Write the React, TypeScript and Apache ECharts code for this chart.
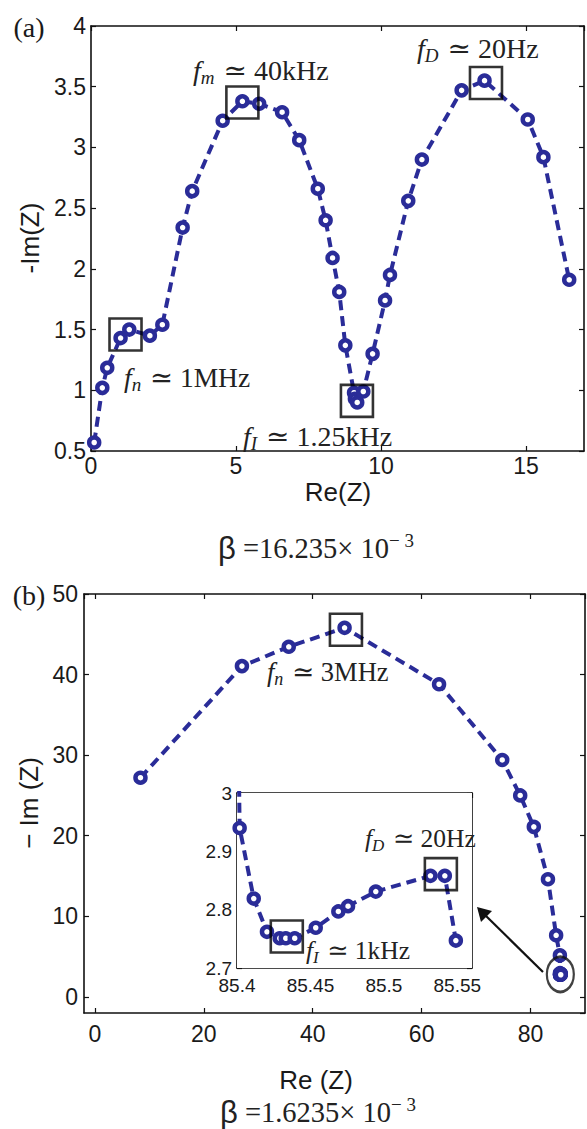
import React, { useEffect, useRef } from "react";
import * as echarts from "echarts";

// ---------- data ----------
// panel (a): Nyquist plot, beta = 16.235e-3
const aRe = [0.11, 0.39, 0.56, 1.02, 1.32, 2.03, 2.46, 3.16, 3.49, 4.54, 5.22, 5.8, 6.59, 7.18, 7.82, 8.09, 8.33, 8.56, 8.77, 9.07, 9.1, 9.18, 9.39, 9.71, 10.14, 10.31, 10.94, 11.41, 12.78, 13.57, 15.06, 15.6, 16.49];
const aIm = [0.57, 1.02, 1.185, 1.43, 1.5, 1.45, 1.54, 2.34, 2.64, 3.22, 3.38, 3.36, 3.29, 3.06, 2.66, 2.4, 2.09, 1.81, 1.37, 0.98, 0.93, 0.9, 0.99, 1.3, 1.74, 1.95, 2.56, 2.9, 3.47, 3.55, 3.23, 2.92, 1.91];
const aBoxRe = [1.19, 5.22, 9.17, 13.62];
const aBoxIm = [1.46, 3.37, 0.913, 3.53];

// panel (b): beta = 1.6235e-3
const bRe = [8.37, 27.0, 35.6, 45.85, 63.2, 74.8, 78.1, 80.6, 83.2, 84.7, 85.39];
const bIm = [27.2, 41.05, 43.45, 45.8, 38.8, 29.4, 25.0, 21.1, 14.6, 7.64, 5.15];
// low-frequency tail shown in the inset
const insetRe = [85.4018, 85.4114, 85.4204, 85.4291, 85.4332, 85.4393, 85.4536, 85.469, 85.4756, 85.4945, 85.5317, 85.5415, 85.549];
const insetIm = [2.94, 2.819, 2.762, 2.751, 2.751, 2.751, 2.769, 2.797, 2.806, 2.831, 2.858, 2.858, 2.747];
const bBoxRe = [46.1];
const bBoxIm = [45.57];
const insetBoxRe = [85.4339, 85.5388];
const insetBoxIm = [2.754, 2.861];
const ellipseRe = [85.47];
const ellipseIm = [2.8];

const BLUE = "#2A2C98";
const SANS = "'Liberation Sans', Arial, sans-serif";
const SERIF = "'Liberation Serif', 'DejaVu Serif', serif";

const pairs = (xs: number[], ys: number[]) => xs.map((x, i) => [x, ys[i]]);

const fmt = (v: number) => String(Math.round(v * 1000) / 1000);

function axisBase(gi: number, o: any) {
  return {
    gridIndex: gi,
    type: "value",
    min: o.min,
    max: o.max,
    interval: o.interval,
    splitNumber: o.splitNumber,
    axisLine: { show: true, onZero: false, lineStyle: { color: "#111", width: 1.6 } },
    axisTick: { show: true, inside: true, length: 5, lineStyle: { color: "#111", width: 1.2 } },
    splitLine: { show: false },
  };
}

const labelStyle = (o: any) => ({
  show: true,
  fontSize: o.fontSize,
  fontFamily: SANS,
  color: "#1a1a1a",
  margin: o.margin,
  lineHeight: o.lineHeight,
  showMinLabel: o.showMin,
  showMaxLabel: o.showMax,
  formatter: fmt,
});

function xAxes(gi: number, o: any) {
  const base = axisBase(gi, o);
  return [
    { ...base, position: "bottom", axisLabel: labelStyle(o) },
    { ...base, position: "top", axisLabel: { show: false } },
  ];
}

function yAxes(gi: number, o: any) {
  const base = axisBase(gi, o);
  return [
    { ...base, position: "left", axisLabel: labelStyle(o) },
    { ...base, position: "right", axisLabel: { show: false } },
  ];
}

const lineSeries = (xi: number, yi: number, data: number[][], extra: any = {}) => ({
  type: "line",
  xAxisIndex: xi,
  yAxisIndex: yi,
  data,
  symbol: "circle",
  symbolSize: 10,
  showAllSymbol: true,
  lineStyle: { color: BLUE, width: 4, type: [10, 6] },
  itemStyle: { color: "#ffffff", borderColor: BLUE, borderWidth: 4.5 },
  clip: true,
  z: 2,
  ...extra,
});

const boxSeries = (xi: number, yi: number, data: number[][]) => ({
  type: "scatter",
  xAxisIndex: xi,
  yAxisIndex: yi,
  data,
  symbol: "rect",
  symbolSize: 32,
  itemStyle: { color: "rgba(0,0,0,0)", borderColor: "#000", borderWidth: 2.6 },
  z: 5,
});

const richFor = (size: number) => ({
  it: { fontFamily: SERIF, fontStyle: "italic", fontSize: size, fill: "#222", lineHeight: size + 6, verticalAlign: "middle" },
  sub: { fontFamily: SERIF, fontStyle: "italic", fontSize: Math.round(size * 0.68), fill: "#222", lineHeight: Math.round(size * 0.5), verticalAlign: "bottom", padding: [0, 2, 0, 0] },
  rm: { fontFamily: SERIF, fontSize: size, fill: "#222", lineHeight: size + 6, verticalAlign: "middle" },
  sup: { fontFamily: SERIF, fontSize: Math.round(size * 0.68), fill: "#222", lineHeight: Math.round(size * 0.5), verticalAlign: "top" },
  b: { fontFamily: SANS, fontSize: Math.round(size * 1.08), fill: "#222", lineHeight: size + 6, verticalAlign: "middle" },
});

const mathText = (x: number, y: number, sub: string, rest: string, size: number) => ({
  type: "text",
  x,
  y,
  z: 20,
  style: {
    text: `{it|f}{sub|${sub}}{rm| ≃ ${rest}}`,
    rich: richFor(size),
    align: "left",
    verticalAlign: "middle",
  },
});

const plainText = (x: number, y: number, text: string, size: number, family: string, rotation = 0) => ({
  type: "text",
  x,
  y,
  rotation,
  z: 20,
  style: { text, fontSize: size, fontFamily: family, fill: "#1a1a1a", align: "center", verticalAlign: "middle" },
});

const betaText = (x: number, y: number, value: string) => ({
  type: "text",
  x,
  y,
  z: 20,
  style: {
    text: `{b|β}{rm| =${value}× 10}{sup|− 3}`,
    rich: richFor(28.5),
    align: "center",
    verticalAlign: "middle",
  },
});

export default function App() {
  const ref = useRef<HTMLDivElement>(null);

  useEffect(() => {
    if (!ref.current) return;
    const chart = echarts.init(ref.current, null, { renderer: "svg" });

    const option: any = {
      animation: false,
      backgroundColor: "#ffffff",
      grid: [
        { left: 91, top: 26, width: 493, height: 425, containLabel: false },
        { left: 84, top: 594, width: 501, height: 419, containLabel: false },
        { left: 237, top: 793, width: 235, height: 175, containLabel: false, show: true, backgroundColor: "#ffffff", borderWidth: 0, z: 10 },
      ],
      xAxis: [
        ...xAxes(0, { min: 0, max: 17, interval: 5, fontSize: 23, margin: 3, showMin: true, showMax: false }),
        ...xAxes(1, { min: -2, max: 90, splitNumber: 5, fontSize: 23, margin: 9, showMin: false, showMax: false }),
        ...xAxes(2, { min: 85.4, max: 85.56, interval: 0.05, fontSize: 19, margin: 9, lineHeight: 16, showMin: true, showMax: false }),
      ],
      yAxis: [
        ...yAxes(0, { min: 0.5, max: 4, interval: 0.5, fontSize: 23, margin: 5, showMin: true, showMax: true }),
        ...yAxes(1, { min: -2, max: 50, splitNumber: 5, fontSize: 23, margin: 6, showMin: false, showMax: true }),
        ...yAxes(2, { min: 2.7, max: 3, interval: 0.1, fontSize: 19, margin: 5, lineHeight: 14, showMin: true, showMax: true }),
      ],
      series: [
        lineSeries(0, 0, pairs(aRe, aIm)),
        boxSeries(0, 0, pairs(aBoxRe, aBoxIm)),
        lineSeries(2, 2, pairs(bRe.concat(insetRe), bIm.concat(insetIm))),
        boxSeries(2, 2, pairs(bBoxRe, bBoxIm)),
        {
          type: "scatter",
          xAxisIndex: 2,
          yAxisIndex: 2,
          data: pairs(ellipseRe, ellipseIm),
          symbol: "circle",
          symbolSize: [27, 35],
          itemStyle: { color: "rgba(0,0,0,0)", borderColor: "#111", borderWidth: 2.5 },
          z: 6,
        },
        lineSeries(4, 4, pairs(bRe.slice(-1).concat(insetRe), bIm.slice(-1).concat(insetIm)), { z: 12 }),
        { ...boxSeries(4, 4, pairs(insetBoxRe, insetBoxIm)), z: 14 },
      ],
      graphic: [
        plainText(29, 27, "(a)", 28, SERIF),
        plainText(29, 595, "(b)", 28, SERIF),
        plainText(30, 238, "-Im(Z)", 26, SANS, Math.PI / 2),
        plainText(338, 492, "Re(Z)", 26, SANS),
        betaText(316, 548, "16.235"),
        plainText(29, 803, "− Im (Z)", 26, SANS, Math.PI / 2),
        plainText(316, 1080, "Re (Z)", 26, SANS),
        betaText(318, 1112, "1.6235"),
        mathText(193, 70, "m", "40kHz", 28),
        mathText(417, 48, "D", "20Hz", 28),
        mathText(124, 377, "n", "1MHz", 27.5),
        mathText(243, 436, "I", "1.25kHz", 28),
        mathText(267, 672, "n", "3MHz", 26.5),
        mathText(365, 838, "D", "20Hz", 25.5),
        mathText(306, 950, "I", "1kHz", 25.5),
        {
          type: "line",
          z: 20,
          shape: { x1: 543, y1: 972, x2: 484, y2: 914 },
          style: { stroke: "#111", lineWidth: 2.2 },
        },
        {
          type: "polygon",
          z: 20,
          shape: { points: [[477, 907], [492, 911], [487, 916], [481, 922]] },
          style: { fill: "#111" },
        },
      ],
    };

    chart.setOption(option);
    return () => chart.dispose();
  }, []);

  return (
    <div
      ref={ref}
      style={{ position: "absolute", left: 0, top: 0, width: 587, height: 1129, background: "#fff" }}
    />
  );
}
